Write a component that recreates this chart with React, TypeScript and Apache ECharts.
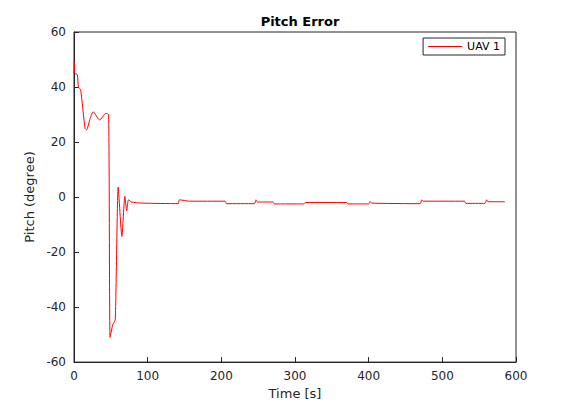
import { useEffect, useRef } from 'react';
import * as echarts from 'echarts';

const timeS = [0, 0.5, 1, 4.5, 6, 9, 15, 17, 22, 26, 35, 43, 47, 49, 52.5, 56, 60, 65, 69, 71.5, 74, 78, 92, 141.6, 143, 157, 205, 207, 245, 247, 249, 270, 272, 312, 314, 370, 372, 400, 402, 404, 470, 472, 474, 530, 532, 558, 560, 562, 585];
const pitchDeg = [45, 49, 45, 44.5, 40, 39, 25, 24.4, 28.6, 31, 28, 30.4, 30, -51, -46.5, -44.6, 3.6, -14.3, 0.2, -5, -1, -1.8, -2.2, -2.4, -1, -1.5, -1.5, -2.4, -2.4, -1, -1.8, -1.8, -2.5, -2.5, -2, -2, -2.5, -2.5, -1.6, -2.2, -2.4, -1, -1.5, -1.5, -2.3, -2.3, -1, -1.7, -1.7];

export default function App() {
  const ref = useRef<HTMLDivElement>(null);

  useEffect(() => {
    if (!ref.current) return;
    const chart = echarts.init(ref.current, null, { renderer: 'svg' });
    const axisCommon = {
      axisLine: { show: true, onZero: false, lineStyle: { color: '#262626' } },
      axisTick: { show: true, inside: true, length: 5, lineStyle: { color: '#262626' } },
      axisLabel: { color: '#262626', fontSize: 12 },
      splitLine: { show: false },
      nameTextStyle: { color: '#262626', fontSize: 13 },
    };
    chart.setOption({
      animation: false,
      textStyle: { fontFamily: 'DejaVu Sans' },
      title: {
        text: 'Pitch Error',
        left: 287,
        top: 2,
        textAlign: 'center',
        textStyle: { fontSize: 13, fontWeight: 'bold', color: '#000' },
      },
      legend: {
        right: 57,
        top: 30,
        orient: 'vertical',
        borderColor: '#262626',
        borderWidth: 1,
        padding: [3, 5],
        itemWidth: 34,
        itemHeight: 1,
        itemGap: 4,
        icon: 'rect',
        textStyle: { fontSize: 11, color: '#000' },
        data: ['UAV 1'],
      },
      grid: { left: 66, right: 46, top: 24, bottom: 37, show: true, borderColor: '#262626', borderWidth: 1, backgroundColor: '#fff' },
      xAxis: {
        ...axisCommon,
        type: 'value',
        min: 0,
        max: 600,
        interval: 100,
        name: 'Time [s]',
        nameLocation: 'middle',
        nameGap: 22,
      },
      yAxis: {
        ...axisCommon,
        type: 'value',
        min: -60,
        max: 60,
        interval: 20,
        name: 'Pitch (degree)',
        nameLocation: 'middle',
        nameGap: 30,
      },
      series: [
        {
          name: 'UAV 1',
          type: 'line',
          data: timeS.map((t, i) => [t, pitchDeg[i]]),
          showSymbol: false,
          smooth: 0.2,
          lineStyle: { color: '#ff0000', width: 1 },
          itemStyle: { color: '#ff0000' },
        },
      ],
    });
    return () => chart.dispose();
  }, []);

  return <div ref={ref} style={{ width: 554, height: 397 }} />;
}
